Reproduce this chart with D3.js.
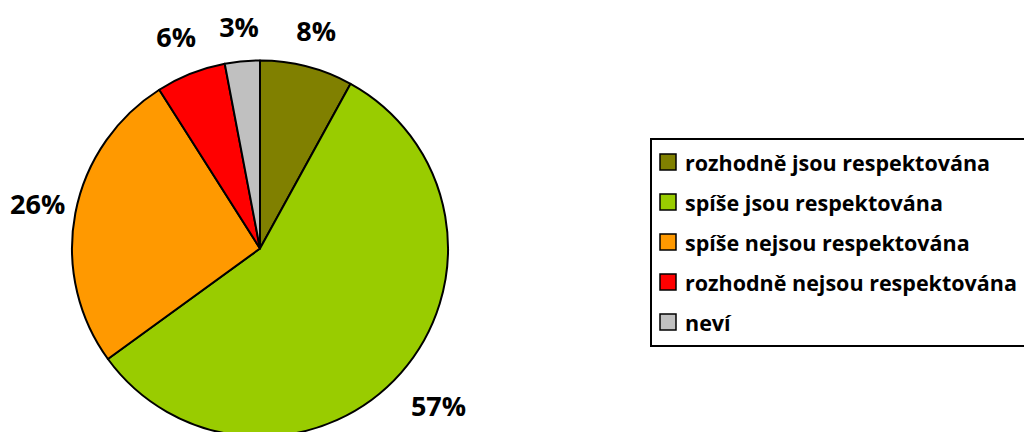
<!DOCTYPE html>
<html>
<head>
<meta charset="utf-8">
<script src="https://cdn.jsdelivr.net/npm/d3@7"></script>
<style>
  body { margin: 0; background: #fff; }
  svg { display: block; font-family: "Open Sans", "Noto Sans", sans-serif; font-weight: bold; }
</style>
</head>
<body>
<svg id="chart" width="1024" height="432"></svg>
<script>
const categories = ["rozhodně jsou respektována", "spíše jsou respektována", "spíše nejsou respektována", "rozhodně nejsou respektována", "neví"];
const values = [8, 57, 26, 6, 3];
const colors = ["#808000", "#99CC00", "#FF9900", "#FF0000", "#C0C0C0"];

const svg = d3.select("#chart");
const cx = 260, cy = 248.5, radius = 188;

const data = categories.map((c, i) => ({name: c, value: values[i], color: colors[i]}));

const pie = d3.pie().value(d => d.value).sort(null);
const arc = d3.arc().innerRadius(0).outerRadius(radius);
const arcs = pie(data);

const g = svg.append("g").attr("transform", `translate(${cx},${cy})`);

g.selectAll("path")
    .data(arcs)
    .join("path")
    .attr("d", arc)
    .attr("fill", d => d.data.color)
    .attr("stroke", "#000")
    .attr("stroke-width", 2)
    .attr("stroke-linejoin", "round");

// labels at outside end: push the label box out along the mid angle,
// keep it inside the chart area on the left
const labelR = radius + 22;
g.selectAll("text.pct")
    .data(arcs)
    .join("text")
    .attr("class", "pct")
    .attr("font-size", 27)
    .attr("text-anchor", "middle")
    .attr("dominant-baseline", "central")
    .text(d => d.data.value + "%")
    .each(function(d) {
        const a = (d.startAngle + d.endAngle) / 2;
        const s = Math.sin(a), c = -Math.cos(a);
        const bb = this.getBBox();
        const hw = bb.width / 2, hh = 11;
        const ext = Math.abs(s) * hw + Math.abs(c) * hh;
        let x = (labelR + ext) * s;
        const y = (labelR + ext) * c;
        x = Math.max(x, 10 - cx + hw);
        d3.select(this).attr("x", x).attr("y", y);
    });

// legend
const legend = svg.append("g").attr("transform", "translate(651,139)");
legend.append("rect")
    .attr("x", 0).attr("y", 0)
    .attr("width", 400).attr("height", 207)
    .attr("fill", "#fff")
    .attr("stroke", "#000")
    .attr("stroke-width", 2);

const rowY = d3.scalePoint()
    .domain(categories)
    .range([23, 183]);

const rows = legend.selectAll("g.row")
    .data(data)
    .join("g")
    .attr("class", "row")
    .attr("transform", d => `translate(0,${rowY(d.name)})`);

rows.append("rect")
    .attr("x", 9).attr("y", -8)
    .attr("width", 16).attr("height", 16)
    .attr("fill", d => d.color)
    .attr("stroke", "#000")
    .attr("stroke-width", 1.5);

rows.append("text")
    .attr("x", 34)
    .attr("dominant-baseline", "central")
    .attr("font-size", 21.5)
    .text(d => d.name);
</script>
</body>
</html>
